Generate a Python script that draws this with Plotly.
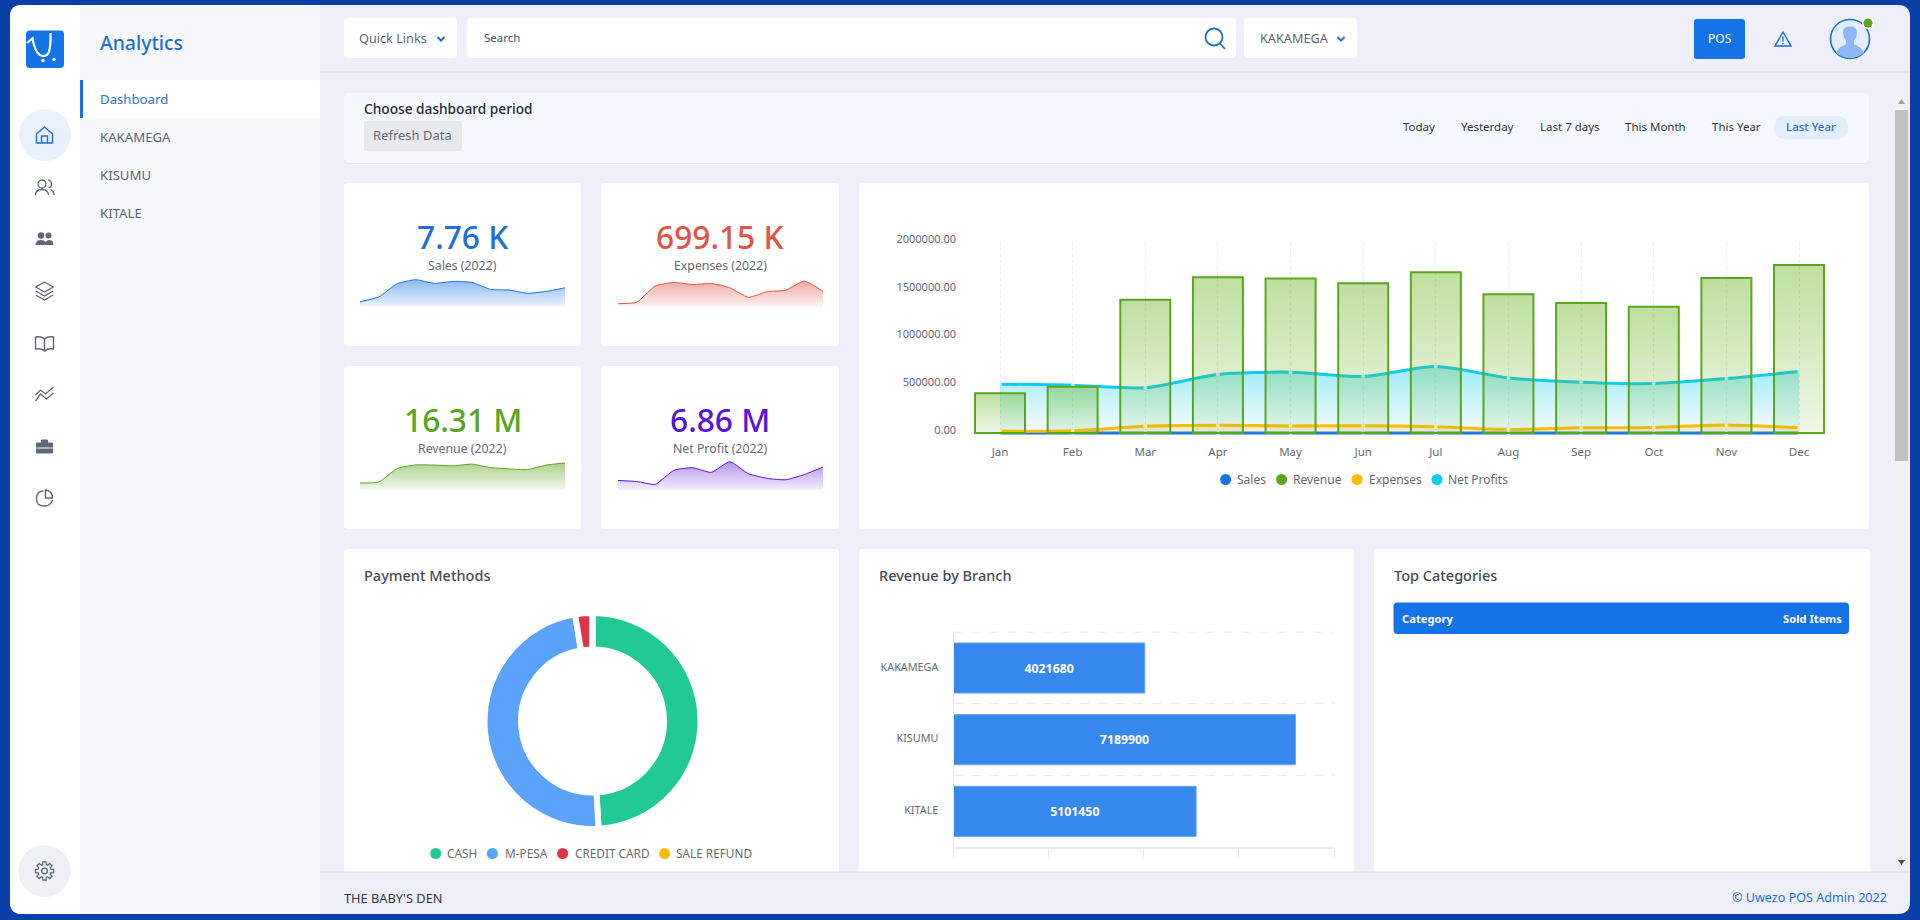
import math
import plotly.graph_objects as go

# ---------- data ----------
months = ["Jan", "Feb", "Mar", "Apr", "May", "Jun", "Jul", "Aug", "Sep", "Oct", "Nov", "Dec"]
sales = [177, 342, 814, 955, 825, 896, 861, 613, 590, 472, 543, 672]
revenue = [417000, 484000, 1395000, 1632000, 1618000, 1569000, 1684000, 1454000, 1360000, 1321000, 1622000, 1758000]
expenses = [20000, 24000, 70000, 80000, 74000, 77000, 65000, 38000, 54000, 58000, 84000, 55000]
net_profits = [511000, 501000, 473000, 612000, 637000, 591000, 696000, 577000, 532000, 518000, 570000, 644000]
branches = ["KAKAMEGA", "KISUMU", "KITALE"]
branch_revenue = [4021680, 7189900, 5101450]
payment_methods = ["CASH", "M-PESA", "CREDIT CARD", "SALE REFUND"]
payment_values = [8010000, 7880000, 420000, 0]
kpi_values = ["7.76 K", "699.15 K", "16.31 M", "6.86 M"]
kpi_labels = ["Sales (2022)", "Expenses (2022)", "Revenue (2022)", "Net Profit (2022)"]
nav_items = ["KAKAMEGA", "KISUMU", "KITALE"]
period_items = ["Today", "Yesterday", "Last 7 days", "This Month", "This Year", "Last Year"]

W, H = 1920, 920
FONT = "Noto Sans"
BLUE, GREEN, YEL, CYAN, RED, PURP = "#1473e6", "#5aa61f", "#ffbb0a", "#0fcdf0", "#e05546", "#5a14d8"
ICON = "#5f6878"

def px(x): return x / W
def py(y): return 1 - y / H

def P(s, dx=0, dy=0):
    out, i = [], 0
    for t in s.split():
        if t.isalpha():
            out.append(t)
        else:
            if i % 2 == 0:
                out.append(f"{px(float(t) + dx):.6f}")
            else:
                out.append(f"{py(float(t) + dy):.6f}")
            i += 1
    return " ".join(out)

shapes, annos = [], []

def path(s, fill=None, line=None, lw=0, dx=0, dy=0, dash=None):
    shapes.append(dict(type="path", xref="paper", yref="paper", path=P(s, dx, dy), layer="below",
                       fillcolor=fill or "rgba(0,0,0,0)",
                       line=dict(color=line or "rgba(0,0,0,0)", width=lw, dash=dash or "solid")))

def rr(x0, y0, x1, y1, r, fill, tl=True, tr=True, br=True, bl=True, line=None, lw=0):
    s = f"M {x0 + (r if tl else 0)} {y0} L {x1 - (r if tr else 0)} {y0} "
    s += f"Q {x1} {y0} {x1} {y0 + r} " if tr else ""
    s += f"L {x1} {y1 - (r if br else 0)} "
    s += f"Q {x1} {y1} {x1 - r} {y1} " if br else ""
    s += f"L {x0 + (r if bl else 0)} {y1} "
    s += f"Q {x0} {y1} {x0} {y1 - r} " if bl else ""
    s += f"L {x0} {y0 + (r if tl else 0)} "
    s += f"Q {x0} {y0} {x0 + r} {y0} " if tl else ""
    s += "Z"
    path(s, fill=fill, line=line, lw=lw)

def circ(cx, cy, r, fill=None, line=None, lw=0):
    shapes.append(dict(type="circle", xref="paper", yref="paper", layer="below",
                       x0=px(cx - r), x1=px(cx + r), y0=py(cy + r), y1=py(cy - r),
                       fillcolor=fill or "rgba(0,0,0,0)",
                       line=dict(color=line or "rgba(0,0,0,0)", width=lw)))

def txt(x, y, text, size, color, anchor="left", weight=400):
    annos.append(dict(xref="paper", yref="paper", x=px(x), y=py(y), text=text, showarrow=False,
                      xanchor=anchor, yanchor="middle", align=anchor,
                      borderpad=0, borderwidth=0,
                      font=dict(family=FONT, size=size, color=color, weight=weight)))

# ---------- page chrome ----------
rr(10, 5, 1910, 914, 12, "#eeeff8")
rr(10, 5, 80, 914, 12, "#ffffff", tr=False, br=False)
rr(80, 5, 320, 914, 0, "#f5f7fb")
path("M 320 72 L 1910 72", line="#dfe1ee", lw=1)
# top bar
rr(344, 18, 457, 58, 4, "#ffffff")
rr(467, 18, 1236, 58, 4, "#ffffff")
rr(1244, 18, 1357, 58, 4, "#ffffff")
rr(1694, 19, 1745, 59, 3, BLUE)
txt(359, 38.5, "Quick Links", 12.7, "#5d6673")
txt(484, 38, "Search", 11.5, "#44546a")
txt(1260, 38.5, "KAKAMEGA", 12.7, "#5d6673")
txt(1719.5, 38.5, "POS", 12, "#ffffff", "center")
for cx in (441, 1341):
    path("M -3.5 -2 L 0 1.5 L 3.5 -2", line="#1f6fd6", lw=2, dx=cx, dy=39)
circ(1214, 37, 8.5, line="#1f6fd6", lw=1.8)
path("M 1220 43.5 L 1225 49", line="#1f6fd6", lw=1.8)
# warning icon
path("M 1783 32 L 1791 46 L 1775 46 Z", line="#1f6fd6", lw=1.5)
path("M 1783 36.5 L 1783 41.5", line="#1f6fd6", lw=1.4)
path("M 1783 43 L 1783 44.2", line="#1f6fd6", lw=1.4)
# avatar
circ(1850, 39, 19.5, fill="#e3edfb", line="#1f6fd6", lw=1.6)
path("M 1836 53 Q 1838 47 1846 44.5 L 1846 41 Q 1842.5 36 1843 31 Q 1844 26.5 1850 26.5 Q 1856 26.5 1857 31 "
     "Q 1857.5 36 1854 41 L 1854 44.5 Q 1862 47 1864 53 Q 1858 57.5 1850 57.5 Q 1842 57.5 1836 53 Z", fill="#8db6f5")
circ(1868, 23, 6, fill="#ffffff")
circ(1868, 23, 4.5, fill=GREEN)
# scrollbar
rr(1895, 95, 1908, 872, 0, "#f1f1f4")
rr(1895, 110, 1908, 461, 0, "#c1c1c1")
path("M 1901.5 99 L 1905 104 L 1898 104 Z", fill="#a3a3a3")
path("M 1901.5 865 L 1905 860 L 1898 860 Z", fill="#505050")

# rail
rr(26, 30.5, 64, 68, 4, BLUE)
path("M 27 43 L 32.5 38.5 Q 35 52 40 55 Q 46 58 49 52 Q 51 44 50.5 33", line="#ffffff", lw=2.2)
circ(43, 60.5, 1.7, fill="#ffffff")
circ(54, 59.5, 1.7, fill="#ffffff")
circ(45, 135, 26, fill="#e8f1fd")
path("M -8 -1 L 0 -8 L 8 -1 L 8 8 L -8 8 Z M -3 8 L -3 1 L 3 1 L 3 8", line="#1f6fd6", lw=1.4, dx=44.5, dy=135)
# users
circ(42, 184, 4, line=ICON, lw=1.3)
path("M 35.5 195 Q 35.5 189.5 42 189.5 Q 48 189.5 48.5 195 M 48 180 Q 51.5 181 51.5 184 Q 51.5 187 48.5 188 "
     "M 50.5 189.5 Q 54 191 54 195", line=ICON, lw=1.3)
# group
circ(41, 235.5, 3.2, fill=ICON); circ(48.5, 235.5, 3, fill=ICON)
path("M 35.5 245 Q 35.5 240 41 240 Q 44.5 240 45.5 242 Q 47 240 49 240 Q 53.5 240 53.5 245 Z", fill=ICON)
# layers
path("M 0 -9 L 8.7 -4 L 0 1 L -8.7 -4 Z M -8.7 0 L 0 5 L 8.7 0 M -8.7 4 L 0 9 L 8.7 4", line=ICON, lw=1.3, dx=44.5, dy=291)
# book
path("M 0 -4 Q -3 -7 -9 -6 L -9 6 Q -3 5 0 8 Q 3 5 9 6 L 9 -6 Q 3 -7 0 -4 Z M 0 -4 L 0 8", line=ICON, lw=1.4, dx=44.5, dy=343)
# lines
path("M -9 1 L -4 -4 L 1 0 L 9 -7 M -9 7 L -4 0 L 2 5 L 9 -1", line=ICON, lw=1.3, dx=44.5, dy=394)
# case
path("M -8 -4 L 8 -4 L 8 6 L -8 6 Z M -3 -4 L -3 -7 L 3 -7 L 3 -4", fill=ICON, line=ICON, lw=1, dx=44.5, dy=447)
path("M -8 1 L 8 1", line="#ffffff", lw=1, dx=44.5, dy=447)
# pie
path("M -1 -7 Q -8 -7 -8 1 Q -8 8 0 8 Q 6 8 8 2 M 1 -8 L 1 0 L 8 0 Q 8 -7 1 -8 Z", line=ICON, lw=1.4, dx=44.5, dy=498)
# gear
circ(44.5, 871, 26, fill="#eef0f6")
pts = []
for k in range(8):
    a = k * math.pi / 4
    for d, rad in ((-0.28, 6.6), (-0.18, 9.2), (0.18, 9.2), (0.28, 6.6)):
        pts.append((rad * math.cos(a + d), rad * math.sin(a + d)))
path("M " + " L ".join(f"{x:.2f} {y:.2f}" for x, y in pts) + " Z", line=ICON, lw=1.3, dx=44.5, dy=871)
circ(44.5, 871, 2.8, line=ICON, lw=1.3)

# side nav
txt(100, 42.5, "Analytics", 19.4, "#1f6fd6", weight=500)
rr(80, 80, 320, 118, 0, "#ffffff")
rr(80, 80, 83, 118, 0, BLUE)
txt(100, 99, "Dashboard", 13.2, "#2f74d0")
for name, y in zip(nav_items, (137, 175, 213)):
    txt(100, y, name, 13.2, "#5f6672")

# period card
rr(344, 94, 1869, 164, 5, "#e4e6f1")
rr(344, 93, 1869, 163, 5, "#f5f8fe")
txt(364, 108.5, "Choose dashboard period", 13.7, "#262b33", weight=500)
rr(364, 121, 462, 151, 2, "#e8e9ec")
txt(373, 135, "Refresh Data", 13, "#666b73")
rr(1774, 116, 1848, 139, 11.5, "#e3eefc")
for name, cx in zip(period_items, (1418.5, 1487, 1570, 1655, 1736, 1811)):
    txt(cx, 126.5, name, 11.5, "#2f74d0" if name == "Last Year" else "#333840", "center", 500 if name == "Last Year" else 400)

# cards
for box in ((344, 183, 581, 346), (601, 183, 839, 346), (344, 366, 581, 529), (601, 366, 839, 529), (859, 183, 1869, 529)):
    rr(*box, 4, "#ffffff")
for box in ((344, 549, 839, 872), (859, 549, 1354, 872), (1374, 549, 1870, 872)):
    rr(*box, 4, "#ffffff", br=False, bl=False)
path("M 320 872 L 1910 872", line="#dcdee9", lw=1)
txt(344, 897.5, "THE BABY'S DEN", 12.8, "#333840")
txt(1887, 897, "© Uwezo POS Admin 2022", 12.6, "#1f6fd6", "right")

txt(364, 574.5, "Payment Methods", 14.5, "#434c58", weight=500)
txt(878.5, 574.5, "Revenue by Branch", 14.5, "#434c58", weight=500)
txt(1394, 574.5, "Top Categories", 14.5, "#434c58", weight=500)
rr(1393.5, 602.5, 1849, 634, 4, BLUE)
txt(1402, 618, "Category", 11.2, "#ffffff", weight=700)
txt(1841.5, 618, "Sold Items", 11.2, "#ffffff", "right", weight=700)

fig = go.Figure()
layout_axes = {}

def dom_x(a, b): return [a / W, b / W]
def dom_y(top, bottom): return [1 - bottom / H, 1 - top / H]

# ---------- KPI sparklines ----------
kpi_rows = [
    (sales, BLUE, "20,115,230", [0, 1062], 360, 276.7, 462.5, 236, 265, kpi_values[0], kpi_labels[0], "#1f6fd6"),
    (expenses, RED, "224,85,70", [11500, 96200], 618, 276.7, 720, 236, 265, kpi_values[1], kpi_labels[1], RED),
    (revenue, GREEN, "90,166,31", [-30000, 1980000], 360, 459.7, 462.5, 419, 448, kpi_values[2], kpi_labels[2], GREEN),
    (net_profits, PURP, "110,40,220", [420500, 715500], 618, 459.7, 720, 419, 448, kpi_values[3], kpi_labels[3], PURP),
]
for n, (vals, col, rgb, rng, xl, yt, tcx, ty1, ty2, val, lab, tcol) in enumerate(kpi_rows, start=1):
    sx, sy = f"x{n}" if n > 1 else "x", f"y{n}" if n > 1 else "y"
    key = n if n > 1 else ""
    layout_axes[f"xaxis{key}"] = dict(domain=dom_x(xl, xl + 205), range=[0, 11], visible=False, fixedrange=True, anchor=sy)
    layout_axes[f"yaxis{key}"] = dict(domain=dom_y(yt, yt + 30), range=rng, visible=False, fixedrange=True, anchor=sx)
    fig.add_trace(go.Scatter(x=list(range(12)), y=[rng[0]] * 12, mode="lines", line=dict(width=0),
                             xaxis=sx, yaxis=sy, hoverinfo="skip"))
    fig.add_trace(go.Scatter(x=list(range(12)), y=vals, mode="lines", xaxis=sx, yaxis=sy, hoverinfo="skip",
                             line=dict(color=col, width=1, shape="spline", smoothing=0.5),
                             fill="tonexty",
                             fillgradient=dict(type="vertical", colorscale=[[0, f"rgba({rgb},0.08)"], [1, f"rgba({rgb},0.5)"]])))
    txt(tcx, ty1, val, 31.7, tcol, "center", 500)
    txt(tcx, ty2, lab, 12.3, "#666b73", "center")

# ---------- main combo chart ----------
STEP = 72.64
X0 = 1000
dl, dr = 957, 1826
xr = [(dl - X0) / STEP, (dr - X0) / STEP]
yr = [-31400, 2000000]
layout_axes["xaxis5"] = dict(domain=dom_x(dl, dr), range=xr, anchor="y5", tickmode="array",
                             tickvals=list(range(12)), ticktext=months, showgrid=True, griddash="dot",
                             gridcolor="#e8eaed", gridwidth=1, showline=False, ticks="", zeroline=False,
                             tickfont=dict(family=FONT, size=11.5, color="#666b73"), ticklabelstandoff=7, fixedrange=True)
layout_axes["yaxis5"] = dict(domain=dom_y(242, 436), range=yr, anchor="x5", tickmode="array",
                             tickvals=[0, 500000, 1000000, 1500000, 2000000], tickformat=".2f", showgrid=False,
                             zeroline=False, showline=False, ticks="", ticklabelshift=-3,
                             tickfont=dict(family=FONT, size=11, color="#666b73"), fixedrange=True)
layout_axes["yaxis6"] = dict(domain=dom_y(242, 436), range=yr, anchor="x5", overlaying="y5", visible=False, fixedrange=True)
layout_axes["yaxis7"] = dict(domain=dom_y(242, 436), range=yr, anchor="x5", overlaying="y5", visible=False, fixedrange=True)

idx = list(range(12))
def area(vals, col, rgb, top, low):
    fig.add_trace(go.Scatter(x=idx, y=vals, mode="lines+markers", xaxis="x5", yaxis="y5", hoverinfo="skip",
                             line=dict(color=col, width=3, shape="spline", smoothing=0.7),
                             marker=dict(color="rgba(255,255,255,0.75)", size=4),
                             fill="tozeroy",
                             fillgradient=dict(type="vertical", colorscale=[[0, f"rgba({rgb},{low})"], [1, f"rgba({rgb},{top})"]])))
area(sales, BLUE, "20,115,230", 0.4, 0.1)
area(net_profits, CYAN, "15,205,240", 0.4, 0.04)
area(expenses, YEL, "255,187,10", 0.3, 0.1)
BW = 50 / STEP
for i, v in enumerate(revenue):
    fig.add_trace(go.Scatter(x=[i - BW / 2, i - BW / 2, i + BW / 2, i + BW / 2], y=[0, v, v, 0], mode="lines",
                             line=dict(width=0), xaxis="x5", yaxis="y6", hoverinfo="skip", fill="toself",
                             fillgradient=dict(type="vertical", colorscale=[[0, "rgba(100,180,25,0.10)"], [1, "rgba(100,180,25,0.42)"]])))
fig.add_trace(go.Bar(x=idx, y=revenue, width=BW, xaxis="x5", yaxis="y7", hoverinfo="skip",
                     marker=dict(color="rgba(0,0,0,0)", line=dict(color=GREEN, width=2))))

for name, col, cx, tx in zip(["Sales", "Revenue", "Expenses", "Net Profits"], [BLUE, GREEN, YEL, CYAN],
                             (1225.6, 1281.6, 1357, 1437), (1237.4, 1293.3, 1368.8, 1448)):
    circ(cx, 479.5, 5.5, fill=col)
    txt(tx, 479, name, 12, "#666b73")

# ---------- doughnut ----------
fig.add_trace(go.Pie(labels=payment_methods, values=payment_values, hole=0.662, sort=False, direction="clockwise",
                     rotation=0, textinfo="none", hoverinfo="skip", showlegend=False,
                     marker=dict(colors=["#21c997", "#5ba3fa", "#dc3545", "#ffbb0a"], line=dict(color="#ffffff", width=6)),
                     domain=dict(x=dom_x(484.5, 700.5), y=dom_y(613, 829))))
for name, col, cx, tx in zip(payment_methods, ["#21c997", "#5ba3fa", "#dc3545", "#ffbb0a"],
                             (435.7, 492.4, 562.6, 664.6), (447, 504.5, 574.7, 676)):
    circ(cx, 853.5, 5.5, fill=col)
    txt(tx, 853, name, 11.8, "#666b73")

# ---------- horizontal bars ----------
path("M 953.5 632.2 L 1334 632.2", line="#e6e8eb", lw=1, dash="dash")
layout_axes["xaxis8"] = dict(domain=dom_x(953.5, 1334), range=[0, 8000000], dtick=2000000, anchor="y8",
                             showticklabels=False, showgrid=False, zeroline=False, showline=True,
                             linecolor="#e6e8eb", linewidth=2, ticks="outside", ticklen=8, tickcolor="#e6e8eb", fixedrange=True)
layout_axes["yaxis8"] = dict(domain=dom_y(632.2, 847.2), anchor="x8", type="category", categoryorder="array",
                             categoryarray=branches, autorange="reversed", tickson="boundaries", showgrid=True,
                             griddash="dash", gridcolor="#e6e8eb", gridwidth=1, ticks="", showline=True,
                             linecolor="#e6e8eb", linewidth=1, ticklabelstandoff=12, ticklabelshift=1,
                             tickfont=dict(family=FONT, size=10.8, color="#666b73"), fixedrange=True)
fig.add_trace(go.Bar(y=branches, x=branch_revenue, orientation="h", xaxis="x8", yaxis="y8", width=0.7,
                     text=[str(v) for v in branch_revenue], textposition="inside", insidetextanchor="middle",
                     textangle=0, textfont=dict(family=FONT, size=12.3, color="#ffffff", weight=700),
                     hoverinfo="skip", marker=dict(color="#3688ee", line=dict(color="#6aa8f5", width=1))))

fig.update_layout(width=W, height=H, margin=dict(l=0, r=0, t=0, b=0, autoexpand=False), paper_bgcolor="#0b3fa8",
                  plot_bgcolor="rgba(0,0,0,0)", showlegend=False, shapes=shapes, annotations=annos,
                  barmode="overlay", hovermode=False, font=dict(family=FONT), **layout_axes)

fig.write_html("out.html", config={"displayModeBar": False},
               post_script="document.body.style.margin='0';document.body.style.overflow='hidden';")
